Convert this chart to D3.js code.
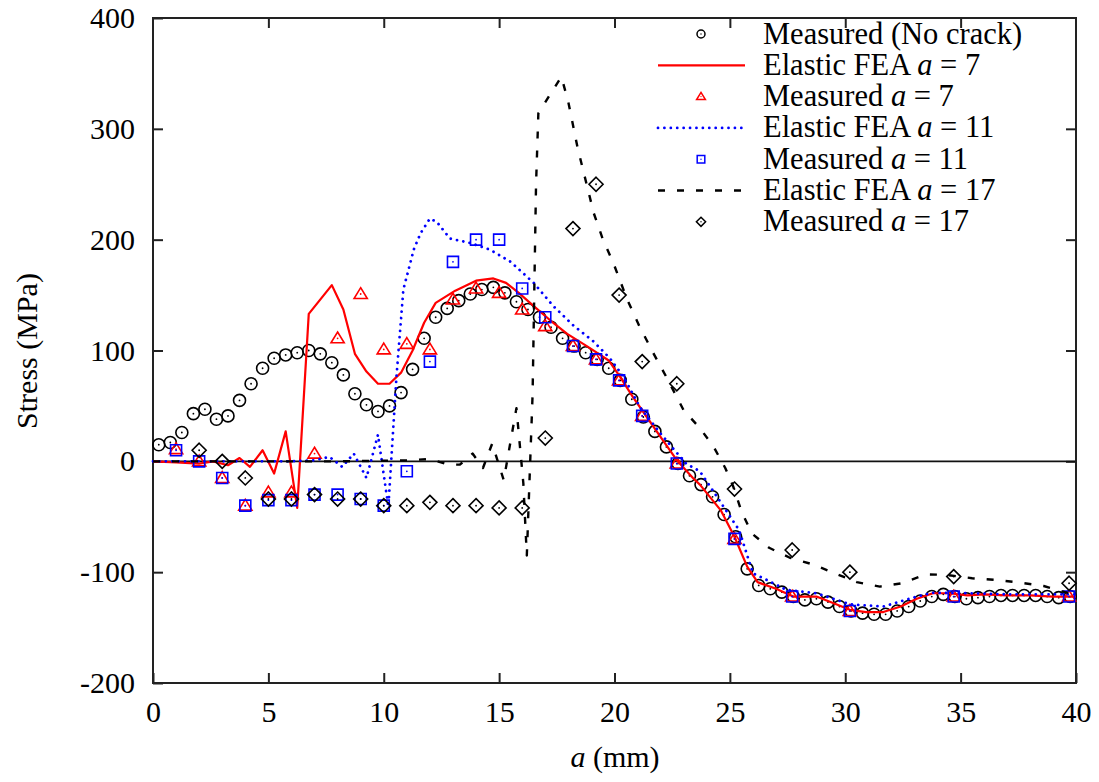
<!DOCTYPE html>
<html>
<head>
<meta charset="utf-8">
<script src="https://cdn.jsdelivr.net/npm/d3@7"></script>
<style>
  body { margin: 0; background: #fff; }
  svg { display: block; }
  text { font-family: "Liberation Serif", "Times New Roman", Times, serif; fill: #000; }
</style>
</head>
<body>
<script>
// ---- data ---------------------------------------------------------------
const xTicks = [0, 5, 10, 15, 20, 25, 30, 35, 40];
const yTicks = [-200, -100, 0, 100, 200, 300, 400];

// Measured stress, no crack (0.5 mm pitch)
const noCrackX = [0.25, 0.75, 1.25, 1.75, 2.25, 2.75, 3.25, 3.75, 4.25, 4.75,
  5.25, 5.75, 6.25, 6.75, 7.25, 7.75, 8.25, 8.75, 9.25, 9.75,
  10.25, 10.75, 11.25, 11.75, 12.25, 12.75, 13.25, 13.75, 14.25, 14.75,
  15.25, 15.75, 16.25, 16.75, 17.25, 17.75, 18.25, 18.75, 19.25, 19.75,
  20.25, 20.75, 21.25, 21.75, 22.25, 22.75, 23.25, 23.75, 24.25, 24.75,
  25.25, 25.75, 26.25, 26.75, 27.25, 27.75, 28.25, 28.75, 29.25, 29.75,
  30.25, 30.75, 31.25, 31.75, 32.25, 32.75, 33.25, 33.75, 34.25, 34.75,
  35.25, 35.75, 36.25, 36.75, 37.25, 37.75, 38.25, 38.75, 39.25, 39.75];
const noCrackY = [15, 17, 26, 43, 47, 38, 41, 55, 70, 84,
  93, 96, 98, 100, 97, 89, 78, 61, 51, 45,
  50, 62, 83, 111, 130, 138, 145, 151, 155, 157,
  152, 144, 137, 130, 121, 111, 104, 98, 92, 84,
  73, 56, 40, 27, 13, -2, -13, -21, -32, -48,
  -68, -97, -112, -115, -118, -122, -125, -124, -127, -131,
  -135, -137, -138, -138, -135, -131, -126, -122, -120, -122,
  -124, -123, -122, -121, -121, -121, -121, -122, -123, -122];

// Measured stress with cracks a = 7 and a = 11 (same gauge positions)
const measX = [1, 2, 3, 4, 5, 6, 7, 8, 9, 10, 11, 12, 13, 14, 15, 16, 17,
  18.2, 19.2, 20.2, 21.2, 22.7, 25.2, 27.7, 30.2, 34.7, 39.7];
const meas7Y = [11, 0, -15, -40, -28, -28, 7, 111, 151, 101, 106, 101, 146, 156, 152, 137, 122,
  104, 92, 73, 41, -2, -70, -122, -135, -122, -122];
const meas11Y = [10, 0, -15, -40, -35, -35, -30, -30, -34, -40, -9, 90, 180, 200, 200, 156, 130,
  104, 92, 73, 41, -2, -70, -122, -135, -122, -122];

// Measured stress with crack a = 17
const meas17X = [2, 3, 4, 5, 6, 7, 8, 9, 10, 11, 12, 13, 14, 15, 16, 17,
  18.2, 19.2, 20.2, 21.2, 22.7, 25.2, 27.7, 30.2, 34.7, 39.7];
const meas17Y = [10, 0, -15, -34, -34, -30, -34, -34, -40, -40, -37, -40, -40, -42, -42, 21,
  210, 250, 150, 90, 70, -25, -80, -100, -104, -110];

// Elastic FEA, a = 7
const fea7X = [0, 1, 2, 2.6, 3.25, 3.75, 4.2, 4.75, 5.25, 5.75, 6.25, 6.75, 7.75, 8.25, 8.75,
  9.25, 9.75, 10.25, 10.75, 11.25, 11.75, 12.25, 13.1, 14, 14.75, 15.3, 15.85, 16.5, 17.2,
  17.95, 18.8, 19.75, 20.25, 20.8, 21.4, 22.1, 22.7, 23.4, 23.7, 24.6, 25.2, 25.75, 26.2,
  27, 27.75, 28.75, 29.5, 30.2, 30.9, 31.65, 32.4, 33.1, 33.8, 34.5, 35.3, 36, 37, 38, 39, 40];
const fea7Y = [0, -1, -2, 0, -3.5, 3, -5, 10, -11, 27, -42, 133, 159, 137, 97,
  81, 70, 70, 80, 100, 125, 143, 154, 163, 165, 161, 152, 140, 127.5,
  115, 104, 91, 76, 58, 40, 19, 1, -15, -21, -44, -68, -95, -109,
  -115, -122, -122, -128, -134, -136, -136, -131, -124, -119, -119, -121, -120, -121, -121, -122, -122];

// Elastic FEA, a = 11
const fea11X = [0, 2, 4, 6, 7, 7.65, 8.2, 8.7, 9.25, 9.75, 10.2, 10.55, 10.85, 11.3, 11.6,
  12.0, 12.3, 12.87, 13.75, 14.6, 15.5, 16.5, 17.35, 18.25, 19.1, 19.8, 20.4, 21.1, 22,
  22.85, 23.1, 23.7, 24.25, 25.4, 26, 26.6, 27.45, 28.75, 30.2, 31.65, 33.1, 33.8, 35.3,
  37, 39.75, 40];
const fea11Y = [0, 0, 0, 0, 1, 4, -5, 7, -15, 24, -41, 76, 155, 191, 206,
  219, 216, 201, 197, 191, 180, 161, 140, 122, 108, 93, 76, 49, 25,
  4, -2, -9, -26, -62, -101, -107, -116, -119, -129, -131, -122, -118.6, -119,
  -120, -120, -120];

// Elastic FEA, a = 17
const fea17X = [0, 2, 4, 6, 8, 10, 11, 12, 12.8, 13.3, 13.85, 14.3, 14.7, 15.2, 15.75, 16.05,
  16.2, 16.45, 16.6, 16.7, 17.15, 17.7, 18.0, 18.4, 19.1, 19.5, 19.95, 20.55, 21.1, 21.7,
  22.25, 23, 23.7, 24.3, 24.8, 25.15, 25.5, 25.95, 26.7, 27.6, 28.6, 29.55, 30.5, 31.5,
  32.45, 33.5, 34.4, 35.5, 36.5, 37.6, 38.6, 39.6, 40];
const fea17Y = [0, 0, 0, 0, 0, 0.5, 1, 2, -3, -3, 7, -6, 16, -17, 48, -20,
  -85, 60, 250, 314, 329, 347, 324, 283, 224, 200, 179, 146, 121, 97,
  76, 46, 30, 13, -6, -23, -45, -65, -78, -87, -93, -101, -109, -113,
  -110, -102, -102.5, -105.5, -107, -109.5, -112.5, -118.5, -120];

// ---- layout -------------------------------------------------------------
const W = 1099, H = 782;
const plot = { left: 153, right: 1076, top: 18, bottom: 683 };
const FONT = "font-family: 'Liberation Serif', 'Times New Roman', Times, serif";

const svg = d3.select("body").append("svg").attr("width", W).attr("height", H);

const x = d3.scaleLinear().domain([0, 40]).range([plot.left, plot.right]);
const y = d3.scaleLinear().domain([-200, 400]).range([plot.bottom, plot.top]);

const RED = "#ff0000", BLUE = "#0000ff", BLACK = "#000";

// ---- axes (inward ticks on all four sides) ------------------------------
function styleAxis(g) {
  g.attr("font-family", null).attr("font-size", null);
  g.select(".domain").remove();
  g.selectAll(".tick line").attr("stroke", "#222").attr("stroke-width", 2);
  g.selectAll(".tick text")
    .attr("style", FONT)
    .attr("font-size", 30).attr("fill", "#000");
}
const plain = d => String(d);

svg.append("g").attr("transform", `translate(0,${plot.bottom})`)
  .call(d3.axisBottom(x).tickValues(xTicks).tickFormat(plain).tickSizeInner(-10).tickSizeOuter(0).tickPadding(18))
  .call(styleAxis);
svg.append("g").attr("transform", `translate(${plot.left},0)`)
  .call(d3.axisLeft(y).tickValues(yTicks).tickFormat(plain).tickSizeInner(-10).tickSizeOuter(0).tickPadding(18))
  .call(styleAxis);
svg.append("g").attr("transform", `translate(0,${plot.top})`)
  .call(d3.axisTop(x).tickValues(xTicks.slice(1, -1)).tickSizeInner(-10).tickSizeOuter(0).tickFormat(""))
  .call(styleAxis);
svg.append("g").attr("transform", `translate(${plot.right},0)`)
  .call(d3.axisRight(y).tickValues(yTicks.slice(1, -1)).tickSizeInner(-10).tickSizeOuter(0).tickFormat(""))
  .call(styleAxis);

// zero line
svg.append("line")
  .attr("x1", x(0)).attr("x2", x(40)).attr("y1", y(0)).attr("y2", y(0))
  .attr("stroke", "#111").attr("stroke-width", 1.6);

// frame
svg.append("rect")
  .attr("x", plot.left).attr("y", plot.top)
  .attr("width", plot.right - plot.left).attr("height", plot.bottom - plot.top)
  .attr("fill", "none").attr("stroke", "#222").attr("stroke-width", 2);

// axis titles
svg.append("text")
  .attr("style", FONT)
  .attr("transform", `translate(37,351) rotate(-90)`)
  .attr("text-anchor", "middle").attr("font-size", 30)
  .text("Stress (MPa)");
const xt = svg.append("text").attr("style", FONT)
  .attr("x", 615).attr("y", 767).attr("text-anchor", "middle").attr("font-size", 30);
xt.append("tspan").attr("font-style", "italic").text("a");
xt.append("tspan").text(" (mm)");

// ---- marker shapes ------------------------------------------------------
const shapes = {
  circle: s => `M${s},0A${s},${s} 0 1,1 ${-s},0A${s},${s} 0 1,1 ${s},0Z`,
  square: s => `M${-s},${-s}H${s}V${s}H${-s}Z`,
  triangle: s => `M0,${-s * 1.05}L${s * 1.1},${s * 0.75}L${-s * 1.1},${s * 0.75}Z`,
  diamond: s => `M0,${-s}L${s},0L0,${s}L${-s},0Z`
};

function drawMarkers(g, xs, ys, shape, size, color, sw) {
  const pts = xs.map((v, i) => [v, ys[i]]);
  const m = g.append("g").selectAll("g").data(pts).join("g")
    .attr("transform", d => `translate(${x(d[0])},${y(d[1])})`);
  m.append("path").attr("d", shapes[shape](size))
    .attr("fill", "none").attr("stroke", color).attr("stroke-width", sw);
  m.append("circle").attr("r", 0.9).attr("fill", color);
}

function drawLine(g, xs, ys, color, width, dash, cap) {
  const pts = xs.map((v, i) => [v, ys[i]]);
  g.append("path").datum(pts)
    .attr("d", d3.line().x(d => x(d[0])).y(d => y(d[1])))
    .attr("fill", "none").attr("stroke", color).attr("stroke-width", width)
    .attr("stroke-dasharray", dash || null)
    .attr("stroke-linecap", cap || "butt")
    .attr("stroke-linejoin", "round");
}

const series = [
  { label: ["Measured (No crack)"], kind: "mark", shape: "circle", color: BLACK, xs: noCrackX, ys: noCrackY, size: 6, lsize: 4 },
  { label: ["Elastic FEA ", "a", " = 7"], kind: "line", color: RED, xs: fea7X, ys: fea7Y, width: 2.2 },
  { label: ["Measured ", "a", " = 7"], kind: "mark", shape: "triangle", color: RED, xs: measX, ys: meas7Y, size: 6, lsize: 4 },
  { label: ["Elastic FEA ", "a", " = 11"], kind: "line", color: BLUE, xs: fea11X, ys: fea11Y, width: 2.8, dash: "0.01 6.4", cap: "round" },
  { label: ["Measured ", "a", " = 11"], kind: "mark", shape: "square", color: BLUE, xs: measX, ys: meas11Y, size: 5.5, lsize: 3.8 },
  { label: ["Elastic FEA ", "a", " = 17"], kind: "line", color: BLACK, xs: fea17X, ys: fea17Y, width: 2.4, dash: "7 12" },
  { label: ["Measured ", "a", " = 17"], kind: "mark", shape: "diamond", color: BLACK, xs: meas17X, ys: meas17Y, size: 7, lsize: 4.6 }
];

const plotG = svg.append("g");
series.forEach(s => {
  if (s.kind === "line") drawLine(plotG, s.xs, s.ys, s.color, s.width, s.dash, s.cap);
  else drawMarkers(plotG, s.xs, s.ys, s.shape, s.size, s.color, 1.6);
});

// ---- legend -------------------------------------------------------------
const legend = svg.append("g");
const rowY0 = 34, rowStep = 31.3;
series.forEach((s, i) => {
  const cy = rowY0 + i * rowStep;
  if (s.kind === "line") {
    legend.append("line").attr("x1", 658).attr("x2", 745).attr("y1", cy).attr("y2", cy)
      .attr("stroke", s.color).attr("stroke-width", s.width)
      .attr("stroke-dasharray", s.dash || null).attr("stroke-linecap", s.cap || "butt");
  } else {
    const m = legend.append("g").attr("transform", `translate(701,${cy})`);
    m.append("path").attr("d", shapes[s.shape](s.lsize))
      .attr("fill", "none").attr("stroke", s.color).attr("stroke-width", 1.5);
    m.append("circle").attr("r", 0.7).attr("fill", s.color);
  }
  const t = legend.append("text").attr("style", FONT)
    .attr("x", 763).attr("y", cy + 9.5).attr("font-size", 30.5);
  s.label.forEach((part, j) => {
    const ts = t.append("tspan").text(part);
    if (j === 1) ts.attr("font-style", "italic");
  });
});
</script>
</body>
</html>
